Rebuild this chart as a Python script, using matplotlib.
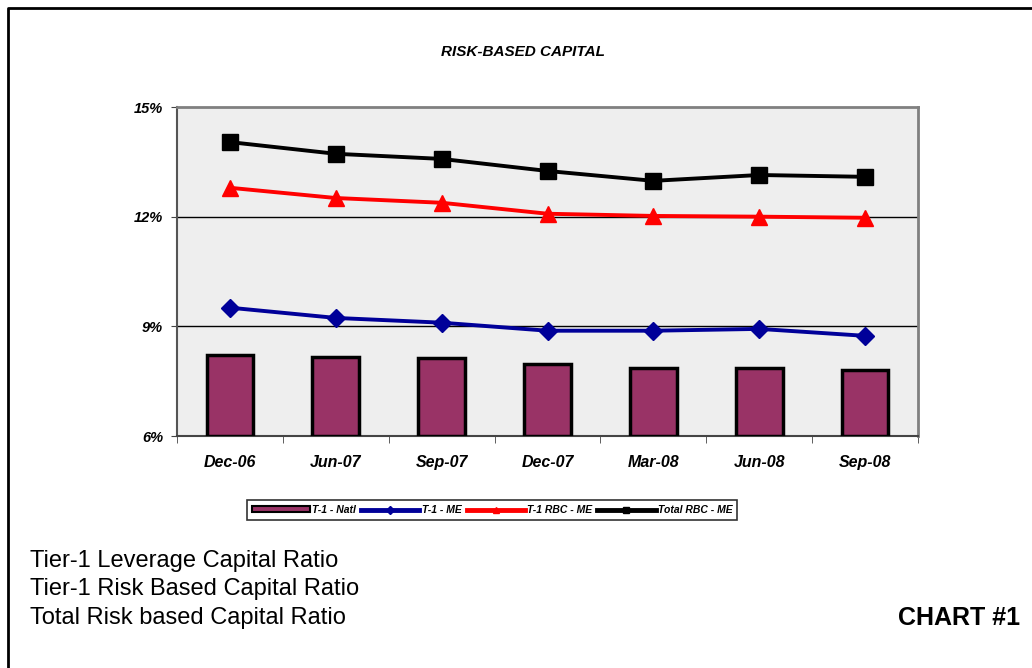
import numpy as np
import matplotlib.pyplot as plt
from matplotlib.lines import Line2D
from matplotlib.patches import Patch
from matplotlib.ticker import FuncFormatter

quarters = ['Dec-06', 'Jun-07', 'Sep-07', 'Dec-07', 'Mar-08', 'Jun-08', 'Sep-08']
t1_natl = [8.22, 8.17, 8.14, 7.98, 7.87, 7.87, 7.81]
t1_me = [9.51, 9.23, 9.10, 8.88, 8.88, 8.93, 8.74]
t1_rbc_me = [12.79, 12.51, 12.38, 12.08, 12.02, 12.00, 11.97]
total_rbc_me = [14.04, 13.72, 13.58, 13.25, 12.98, 13.14, 13.09]

fam = ['Liberation Sans', 'DejaVu Sans']

fig = plt.figure(figsize=(10.32, 6.68), dpi=100)
W, H = 1032, 668
ax = fig.add_axes([177 / W, 1 - 436 / H, (918 - 177) / W, (436 - 107) / H])
ax.set_facecolor('#eeeeee')

x = np.arange(len(quarters))
ax.bar(x, [v - 6 for v in t1_natl], bottom=6, width=0.44, color='#993366',
       edgecolor='black', linewidth=2.5, zorder=3)
ax.plot(x, t1_me, color='#000099', lw=2.8, marker='D', ms=9, zorder=4)
ax.plot(x, t1_rbc_me, color='#ff0000', lw=2.8, marker='^', ms=11, zorder=4)
ax.plot(x, total_rbc_me, color='black', lw=2.8, marker='s', ms=11, zorder=4)

ax.set_ylim(6, 15)
ax.set_xlim(-0.5, len(quarters) - 0.5)
ax.set_yticks([6, 9, 12, 15])
ax.yaxis.set_major_formatter(FuncFormatter(lambda v, p: f'{v:.0f}%'))
for yv in (9, 12):
    ax.axhline(yv, color='black', lw=1, zorder=2)

ax.set_xticks(x)
ax.set_xticklabels(quarters)
ax.set_xticks(np.arange(-0.5, len(quarters)), minor=True)
ax.tick_params(axis='x', which='major', length=0, pad=14)
ax.tick_params(axis='x', which='minor', length=5, direction='out', color='#444444')
ax.tick_params(axis='y', length=4, color='#444444', pad=6)
for lab in ax.get_xticklabels():
    lab.set_fontweight('bold')
    lab.set_fontstyle('italic')
    lab.set_fontsize(11.5)
    lab.set_family(fam)
for lab in ax.get_yticklabels():
    lab.set_fontweight('bold')
    lab.set_fontstyle('italic')
    lab.set_fontsize(10.5)
    lab.set_family(fam)

for s in ('top', 'right'):
    ax.spines[s].set_color('#808080')
    ax.spines[s].set_linewidth(2)
ax.spines['left'].set_color('#555555')
ax.spines['bottom'].set_color('#444444')
ax.spines['left'].set_linewidth(1.5)
ax.spines['bottom'].set_linewidth(1.5)

fig.text(523 / W, 1 - 52 / H, 'RISK-BASED CAPITAL', ha='center', va='center',
         fontsize=11, fontweight='bold', fontstyle='italic', family=fam)

handles = [
    Patch(facecolor='#993366', edgecolor='black', linewidth=1.5),
    Line2D([0], [0], color='#000099', lw=3.5, marker='D', ms=4),
    Line2D([0], [0], color='#ff0000', lw=3.5, marker='^', ms=5),
    Line2D([0], [0], color='black', lw=3.5, marker='s', ms=5),
]
labels = ['T-1 - Natl', 'T-1 - ME', 'T-1 RBC - ME', 'Total RBC - ME']
leg = fig.legend(handles, labels, loc='center', bbox_to_anchor=(492 / W, 1 - 510 / H),
                 ncol=4, frameon=True, fancybox=False, edgecolor='black',
                 handlelength=5.6, handleheight=0.5, handletextpad=0.2,
                 columnspacing=0.5, borderpad=0.45,
                 prop={'size': 7.5, 'weight': 'bold', 'style': 'italic', 'family': fam})
leg.get_frame().set_linewidth(1.2)

fig.text(30 / W, 1 - 561 / H, 'Tier-1 Leverage Capital Ratio', ha='left', va='center',
         fontsize=17, family=fam)
fig.text(30 / W, 1 - 589 / H, 'Tier-1 Risk Based Capital Ratio', ha='left', va='center',
         fontsize=17, family=fam)
fig.text(30 / W, 1 - 618 / H, 'Total Risk based Capital Ratio', ha='left', va='center',
         fontsize=17, family=fam)
fig.text(1020 / W, 1 - 618 / H, 'CHART #1', ha='right', va='center',
         fontsize=18, fontweight='bold', family=fam)

# page frame (top and left edges)
fig.add_artist(Line2D([8 / W, 8 / W, 1.0], [0.0, 1 - 8 / H, 1 - 8 / H],
                      transform=fig.transFigure, color='black', lw=2))

fig.savefig('out.png', dpi=100)
